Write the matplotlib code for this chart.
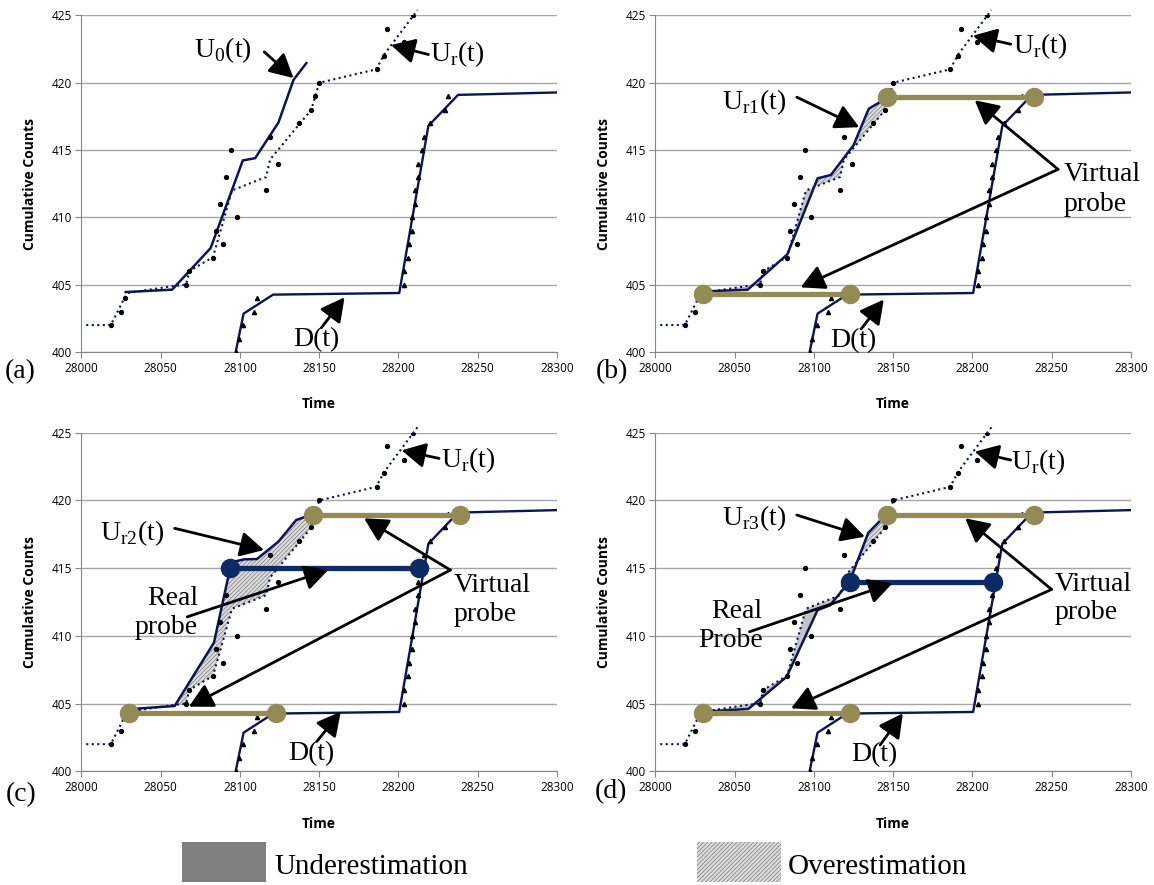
import matplotlib
matplotlib.use('Agg')
import matplotlib.pyplot as plt
import matplotlib.patches as patches
import numpy as np

plt.rcParams['mathtext.fontset'] = 'custom'
plt.rcParams['mathtext.rm'] = 'Liberation Serif'
plt.rcParams['hatch.color'] = '#7a7a7a'
plt.rcParams['hatch.linewidth'] = 0.5

# ---- data ----
# upstream count curve Ur(t) (dotted) and its raw observations
ur_t = [28003, 28018.5, 28027.5, 28030, 28058, 28066, 28068, 28083, 28095,
        28116.5, 28119, 28138, 28145, 28150, 28186, 28191, 28212]
ur_n = [402.0, 402.0, 404.1, 404.4, 404.9, 405.0, 406.0, 407.05, 412.0,
        413.0, 414.3, 417.0, 418.0, 420.0, 421.0, 422.1, 425.4]
ur_obs_t = [28018.5, 28024.8, 28027.5, 28065.8, 28068, 28082.7, 28089.4, 28084.9,
            28098.4, 28087.2, 28116.4, 28091, 28124.3, 28094.6, 28118.7, 28137.4,
            28145, 28147.3, 28149.8, 28186.2, 28190.7, 28203.2, 28192.6, 28209.5]
ur_obs_n = list(range(402, 426))

# downstream curve D(t) and its observations
d_t = [28097.3, 28102.3, 28120.9, 28200.5, 28218.9, 28237.6, 28299.5]
d_n = [400.0, 402.85, 404.26, 404.38, 416.8, 419.1, 419.28]
d_obs_t = [28097.3, 28099.1, 28101.8, 28109, 28110.8, 28203.8, 28203.8, 28206,
           28206.8, 28208.8, 28208.8, 28210.4, 28210.6, 28212.2, 28212.2, 28214.7,
           28216.1, 28219.7, 28229.1, 28231.3]
d_obs_n = list(range(400, 420))

# estimated upstream curves
u0_t = [28027.9, 28057.2, 28081.5, 28101.8, 28109.6, 28124.3, 28133.8, 28141.9]
u0_n = [404.45, 404.63, 407.72, 414.23, 414.4, 417.05, 420.22, 421.46]
ur1_t = [28030.6, 28058.1, 28083.2, 28102.3, 28110.7, 28125, 28134.6, 28146.5]
ur1_n = [404.5, 404.62, 407.25, 412.9, 413.15, 415.36, 418.07, 418.9]
ur2_t = [28029.5, 28058.8, 28083.6, 28093.8, 28097.1, 28102.8, 28110.7, 28124.2, 28135.5, 28145]
ur2_n = [404.58, 404.82, 409.5, 415.0, 415.5, 415.65, 415.67, 416.95, 418.55, 418.95]
ur3_t = [28030.1, 28058.6, 28082.8, 28102.3, 28110.1, 28122.5, 28134.3, 28145.3]
ur3_n = [404.4, 404.6, 406.98, 411.9, 412.25, 414.0, 417.6, 418.92]

# probes
virt_lo_t = [28030, 28123]
virt_lo_n = [404.33, 404.33]
virt_hi_t = [28146, 28239]
virt_hi_n = [418.95, 418.95]
real_c_t = [28093.8, 28212.8]
real_c_n = [415.0, 415.0]
real_d_t = [28122.5, 28213]
real_d_n = [414.0, 414.0]

navy = '#0d1456'
olive = '#948a54'
probe_blue = '#0b2a66'
grid_gray = '#a6a6a6'
serif = 'Liberation Serif'
sans = 'Open Sans'

fig = plt.figure(figsize=(11.54, 8.85), dpi=100)
pos = {'a': [0.0706, 0.6023, 0.412, 0.3802],
       'b': [0.568, 0.6023, 0.4119, 0.3802],
       'c': [0.0706, 0.1285, 0.412, 0.3826],
       'd': [0.568, 0.1285, 0.4119, 0.3826]}


def base(ax):
    ax.set_xlim(28000, 28300)
    ax.set_ylim(400, 425)
    ax.set_xticks(range(28000, 28301, 50))
    ax.set_yticks(range(400, 426, 5))
    ax.grid(axis='y', color=grid_gray, lw=1)
    ax.set_axisbelow(True)
    for s in ['top', 'right']:
        ax.spines[s].set_visible(False)
    for s in ['left', 'bottom']:
        ax.spines[s].set_color('#868686')
    ax.tick_params(length=4, color='#868686', labelsize=8.5, pad=3)
    for lab in ax.get_xticklabels() + ax.get_yticklabels():
        lab.set_family(sans)
    ax.set_xlabel('Time', fontsize=10, fontweight='bold', family=sans)
    ax.set_ylabel('Cumulative Counts', fontsize=10, fontweight='bold', family=sans)
    ax.xaxis.set_label_coords(0.5, -0.135)
    ax.yaxis.set_label_coords(-0.093, 0.5)
    ax.plot(ur_t, ur_n, ':', color=navy, lw=1.5, clip_on=False, zorder=3)
    ax.plot(ur_obs_t, ur_obs_n, 'o', color='black', ms=2.8, zorder=4)
    ax.plot(d_t, d_n, '-', color=navy, lw=1.7, zorder=3)
    ax.plot(d_obs_t, d_obs_n, '^', color='black', ms=3, zorder=4)


def shade(ax, est_t, est_n):
    # region between an estimate and Ur(t): hatched above, grey below
    xs = np.union1d(est_t, [t for t in ur_t if est_t[0] <= t <= est_t[-1]])
    ye = np.interp(xs, est_t, est_n)
    yu = np.interp(xs, ur_t, ur_n)
    ax.fill_between(xs, ye, yu, where=ye >= yu, interpolate=True,
                    facecolor='#dcdcdc', edgecolor='#7a7a7a', lw=0, hatch='////////', zorder=2)
    ax.fill_between(xs, ye, yu, where=ye <= yu, interpolate=True,
                    facecolor='#c4c4c4', edgecolor='none', lw=0, zorder=2)


def arrow(ax, tail, head):
    ax.annotate('', xy=head, xytext=tail,
                arrowprops=dict(arrowstyle='-|>,head_length=0.85,head_width=0.45',
                                color='black', lw=2, shrinkA=0, shrinkB=0,
                                mutation_scale=17), zorder=6)


def label(ax, x, y, s, **kw):
    kw.setdefault('ha', 'center')
    ax.text(x, y, s, fontsize=20, family=serif, va='center', zorder=7, **kw)


def probe(ax, t, n, color):
    ax.plot(t, n, '-', color=color, lw=3.8, marker='o', ms=13, zorder=5)


# (a)
ax = fig.add_axes(pos['a'])
base(ax)
ax.plot(u0_t, u0_n, '-', color=navy, lw=1.8, zorder=3)
label(ax, 28089.4, 422.45, r'U$_{\mathrm{0}}$(t)')
arrow(ax, (28115.3, 422.3), (28133.8, 420.35))
label(ax, 28220, 422.1, r'U$_{\mathrm{r}}$(t)', ha='left')
arrow(ax, (28218.9, 422.1), (28195.3, 422.8))
label(ax, 28148, 400.9, 'D(t)')
arrow(ax, (28151.4, 401.8), (28166, 404.06))

# (b)
ax = fig.add_axes(pos['b'])
base(ax)
shade(ax, ur1_t, ur1_n)
ax.plot(ur1_t, ur1_n, '-', color=navy, lw=1.8, zorder=3)
ax.plot(virt_hi_t, virt_hi_n, '-', color='#7070d0', lw=1, zorder=3)
probe(ax, virt_lo_t, virt_lo_n, olive)
probe(ax, virt_hi_t, virt_hi_n, olive)
label(ax, 28225.4, 422.74, r'U$_{\mathrm{r}}$(t)', ha='left')
arrow(ax, (28224.2, 422.87), (28200.3, 423.5))
label(ax, 28062.2, 418.56, r'U$_{\mathrm{r1}}$(t)')
arrow(ax, (28089.2, 418.93), (28128.6, 416.7))
label(ax, 28257.7, 412.05, 'Virtual\nprobe', ha='left', linespacing=1.25)
arrow(ax, (28254.1, 413.57), (28201.5, 418.7))
arrow(ax, (28254.1, 413.57), (28091.6, 404.8))
label(ax, 28125, 400.86, 'D(t)')
arrow(ax, (28129.8, 401.7), (28144.1, 403.9))

# (c)
ax = fig.add_axes(pos['c'])
base(ax)
shade(ax, ur2_t, ur2_n)
ax.plot(ur2_t, ur2_n, '-', color=navy, lw=1.8, zorder=3)
probe(ax, virt_lo_t, virt_lo_n, olive)
probe(ax, virt_hi_t, virt_hi_n, olive)
probe(ax, real_c_t, real_c_n, probe_blue)
label(ax, 28226.7, 423.0, r'U$_{\mathrm{r}}$(t)', ha='left')
arrow(ax, (28225.6, 423.1), (28202, 423.7))
label(ax, 28031.8, 417.57, r'U$_{\mathrm{r2}}$(t)')
arrow(ax, (28058.8, 417.94), (28115.2, 416.34))
label(ax, 28073.5, 411.7, 'Real\nprobe', ha='right', multialignment='right', linespacing=1.2)
arrow(ax, (28066.7, 411.4), (28155.7, 414.86))
label(ax, 28234.6, 412.65, 'Virtual\nprobe', ha='left', linespacing=1.2)
arrow(ax, (28232.8, 414.86), (28178.3, 418.68))
arrow(ax, (28232.8, 414.86), (28067.8, 404.77))
label(ax, 28144.9, 401.33, 'D(t)')
arrow(ax, (28148.5, 402.2), (28163.6, 404.4))

# (d)
ax = fig.add_axes(pos['d'])
base(ax)
shade(ax, ur3_t, ur3_n)
ax.plot(ur3_t, ur3_n, '-', color=navy, lw=1.8, zorder=3)
probe(ax, virt_lo_t, virt_lo_n, olive)
probe(ax, virt_hi_t, virt_hi_n, olive)
probe(ax, real_d_t, real_d_n, probe_blue)
label(ax, 28224.2, 422.86, r'U$_{\mathrm{r}}$(t)', ha='left')
arrow(ax, (28224.2, 422.98), (28201.5, 423.6))
label(ax, 28062.2, 418.68, r'U$_{\mathrm{r3}}$(t)')
arrow(ax, (28089.2, 418.92), (28132.2, 417.32))
label(ax, 28067.6, 410.75, 'Real\nProbe', ha='right', multialignment='right', linespacing=1.2)
arrow(ax, (28059.3, 410.3), (28149.6, 413.88))
label(ax, 28251.7, 412.75, 'Virtual\nprobe', ha='left', linespacing=1.2)
arrow(ax, (28250, 413.43), (28195.5, 418.68))
arrow(ax, (28250, 413.43), (28085.6, 404.65))
label(ax, 28138.2, 401.2, 'D(t)')
arrow(ax, (28141.8, 401.94), (28156.1, 404.28))

# panel letters
for s, x, y in [('(a)', 0.0177, 0.580), ('(b)', 0.530, 0.580),
                ('(c)', 0.0185, 0.1017), ('(d)', 0.5295, 0.105)]:
    fig.text(x, y, s, fontsize=20, family=serif, ha='center', va='center')

# legend at the bottom
fig.patches.append(patches.Rectangle((0.1575, 0.0034), 0.0728, 0.0452, transform=fig.transFigure,
                                     facecolor='#808080', edgecolor='none', figure=fig))
fig.text(0.2375, 0.0205, 'Underestimation', fontsize=21, family=serif, va='center')
fig.patches.append(patches.Rectangle((0.6036, 0.0034), 0.0728, 0.0452, transform=fig.transFigure,
                                     facecolor='#dcdcdc', edgecolor='#7a7a7a', lw=0,
                                     hatch='////////', figure=fig))
fig.text(0.683, 0.0205, 'Overestimation', fontsize=21, family=serif, va='center')

fig.savefig('out.png', dpi=100, facecolor='white')
